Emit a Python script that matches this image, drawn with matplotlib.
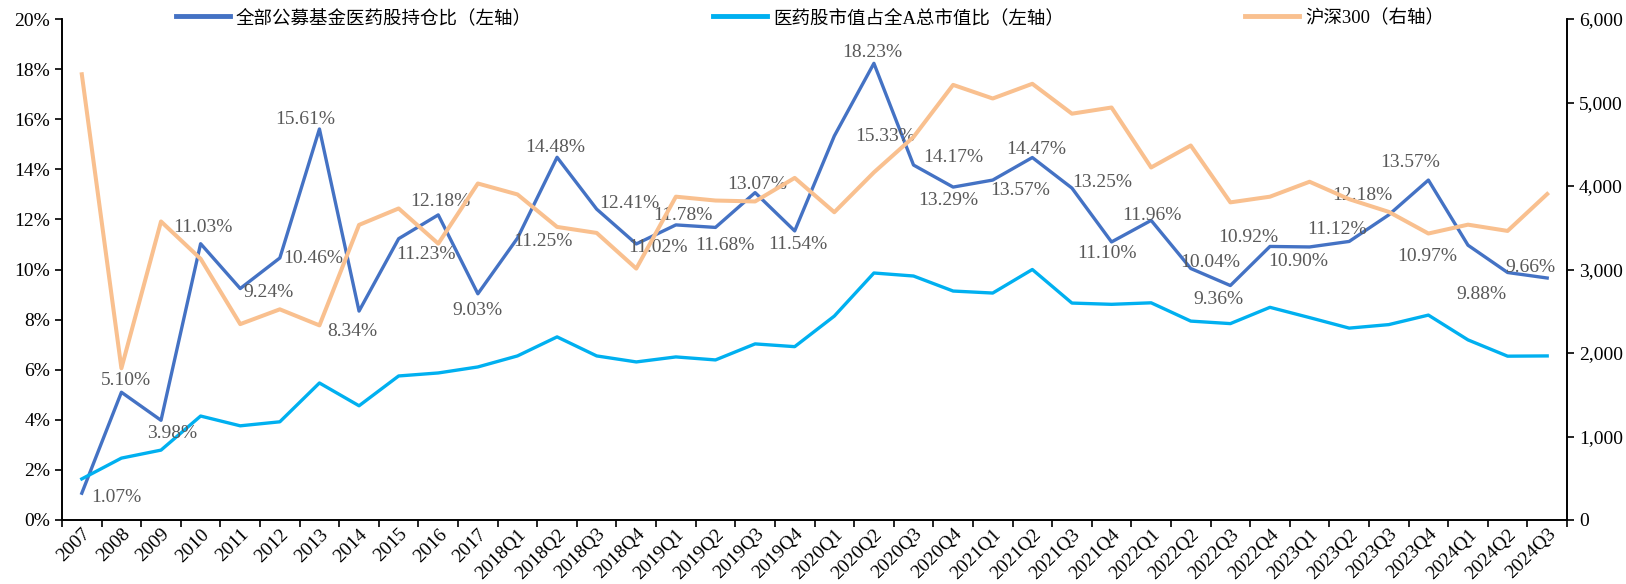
import matplotlib
matplotlib.use("Agg")
import matplotlib.pyplot as plt
import numpy as np
from matplotlib.ticker import FuncFormatter

# x categories
periods = [str(y) for y in range(2007, 2018)] + \
    ["%dQ%d" % (y, q) for y in range(2018, 2025) for q in range(1, 5)][:-1]

# 全部公募基金医药股持仓比 (%)
fund_share = [1.07, 5.10, 3.98, 11.03, 9.24, 10.46, 15.61, 8.34, 11.23, 12.18, 9.03,
              11.25, 14.48, 12.41, 11.02, 11.78, 11.68, 13.07, 11.54,
              15.33, 18.23, 14.17, 13.29, 13.57, 14.47, 13.25, 11.10,
              11.96, 10.04, 9.36, 10.92, 10.90, 11.12, 12.18, 13.57,
              10.97, 9.88, 9.66]

# 医药股市值占全A总市值比 (%)
mkt_share = [1.64, 2.47, 2.79, 4.15, 3.76, 3.92, 5.47, 4.56, 5.75, 5.87, 6.11,
             6.55, 7.31, 6.55, 6.31, 6.51, 6.39, 7.03, 6.92,
             8.14, 9.86, 9.74, 9.14, 9.06, 10.00, 8.66, 8.61,
             8.67, 7.94, 7.84, 8.49, 8.08, 7.66, 7.80, 8.18,
             7.19, 6.54, 6.55]

# 沪深300
hs300 = [5338, 1817, 3575, 3128, 2346, 2523, 2331, 3534, 3731, 3310, 4030,
         3899, 3510, 3438, 3011, 3872, 3826, 3815, 4097,
         3686, 4163, 4587, 5211, 5048, 5224, 4866, 4940,
         4222, 4485, 3804, 3872, 4051, 3842, 3690, 3431,
         3537, 3462, 3904]

# label offsets (pixels) for the fund share series
lab_dx = [35, 5, 11, 2, 28, 33, -14, -7, 27, 2, 0,
          25, -2, 33, 22, 7, 9, 2, 3,
          51, -2, 40, -5, 27, 4, 30, -5,
          1, 19, -12, -22, -11, -12, -26, -18,
          -41, -26, -17]
lab_dy = [-4, 12, -13, 16, -4, -1, 9, -20, -16, 13, -17,
          -3, 10, 6, -4, 9, -18, 8, -14,
          -1, 11, 8, -13, -10, 8, 6, -12,
          5, 6, -14, 9, -15, 12, 19, 18,
          -11, -22, 11]

serif = ["Liberation Serif", "Noto Sans CJK SC"]
plt.rcParams["font.family"] = serif
plt.rcParams["font.size"] = 14

fig = plt.figure(figsize=(16.26, 5.84), dpi=100)
ax = fig.add_axes([62 / 1626, 1 - 520 / 584, (1567 - 62) / 1626, (520 - 19) / 584])
ax2 = ax.twinx()

x = np.arange(len(periods))
l1, = ax.plot(x, fund_share, color="#4472C4", lw=2.4, label="全部公募基金医药股持仓比（左轴）")
l2, = ax.plot(x, mkt_share, color="#00B0F0", lw=2.4, label="医药股市值占全A总市值比（左轴）")
l3, = ax2.plot(x, hs300, color="#F9C08F", lw=2.9, label="沪深300（右轴）")

for i, v in enumerate(fund_share):
    ax.annotate("%.2f%%" % v, (i, v), xytext=(lab_dx[i], lab_dy[i]),
                textcoords="offset pixels", ha="center", va="center",
                color="#595959", fontsize=14)

ax.set_xlim(-0.5, len(periods) - 0.5)
ax.set_ylim(0, 20)
ax.set_yticks(np.arange(0, 21, 2))
ax.yaxis.set_major_formatter(FuncFormatter(lambda v, p: "%d%%" % v))
ax2.set_ylim(0, 6000)
ax2.set_yticks(np.arange(0, 6001, 1000))
ax2.yaxis.set_major_formatter(FuncFormatter(lambda v, p: "{:,.0f}".format(v)))

ax.set_xticks(x)
ax.set_xticklabels(periods, rotation=45, ha="right", rotation_mode="anchor")
ax.set_xticks(np.arange(-0.5, len(periods), 1), minor=True)
ax.tick_params(axis="x", which="major", length=0, pad=4)
ax.tick_params(axis="x", which="minor", length=5, width=1.2, direction="out")
ax.tick_params(axis="y", length=5, width=1.2, direction="out")
ax2.tick_params(axis="y", length=5, width=1.2, direction="out")

for a in (ax, ax2):
    a.spines["top"].set_visible(False)
    for s in ("left", "right", "bottom"):
        a.spines[s].set_linewidth(1.2)

leg = ax2.legend(handles=[l1, l2, l3], loc="upper left", bbox_to_anchor=(176 / 1626, 1 - 9 / 584),
                 bbox_transform=fig.transFigure, ncol=3, frameon=False,
                 prop={"family": serif, "size": 13.3}, handlelength=2.9,
                 handletextpad=0.35, columnspacing=9.8, borderaxespad=0, borderpad=0)
for h in leg.get_lines():
    h.set_linewidth(3.5)

fig.savefig("out.png", dpi=100)
